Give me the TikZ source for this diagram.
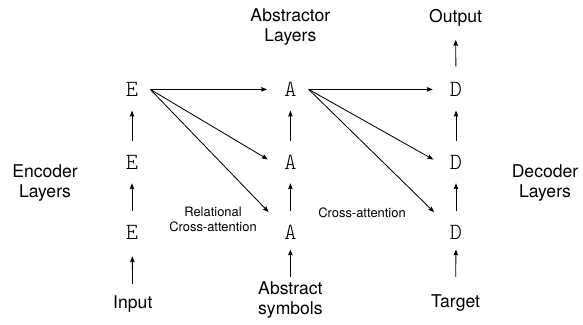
\documentclass[tikz,border=0pt]{standalone}
\usepackage{fontspec}
\setsansfont{TeX Gyre Heros}
\newfontfamily\layerfont{Latin Modern Mono Light}
\usetikzlibrary{arrows.meta}
\tikzset{
  layer/.style={font=\fontsize{16.5}{16.5}\selectfont\layerfont, minimum width=0.9cm, minimum height=0.8cm, inner sep=0pt},
  lbl/.style={font=\fontsize{12.5}{14.2}\selectfont\sffamily, align=center, inner sep=0pt},
  note/.style={font=\fontsize{9.2}{10.7}\selectfont\sffamily, align=center, inner sep=0pt},
  arr/.style={-{Stealth[length=4.2pt,width=3.2pt,inset=0.5pt]}, line width=0.6pt},
}

\begin{document}
\begin{tikzpicture}[x=1cm, y=1cm]
\useasboundingbox (0,0) rectangle (14.575,8.125);
% layer letters
\node[layer] (enc1) at (3.30,5.89) {E};
\node[layer] (enc2) at (3.30,4.075) {E};
\node[layer] (enc3) at (3.30,2.325) {E};
\node[layer] (abs1) at (7.26,5.89) {A};
\node[layer] (abs2) at (7.26,4.075) {A};
\node[layer] (abs3) at (7.26,2.325) {A};
\node[layer] (dec1) at (11.40,5.89) {D};
\node[layer] (dec2) at (11.40,4.075) {D};
\node[layer] (dec3) at (11.40,2.325) {D};
% labels
\node[lbl, anchor=base] (input) at (3.32,0.40) {Input};
\node[lbl] (symbols) at (7.26,0.625) {Abstract\\symbols};
\node[lbl, anchor=base] (target) at (11.39,0.425) {Target};
\node[lbl, anchor=base] (output) at (11.39,7.55) {Output};
\node[lbl] (abstractor) at (7.26,7.45) {Abstractor\\Layers};
\node[lbl] (encoder) at (1.125,3.545) {Encoder\\Layers};
\node[lbl] (decoder) at (13.625,3.54) {Decoder\\Layers};
\node[note] (relational) at (5.325,2.63) {Relational\\Cross-attention};
\node[note, anchor=base] (cross) at (9.05,2.675) {Cross-attention};
% vertical flow
\draw[arr, shorten <=0.3cm, shorten >=0.2cm] (input) -- (enc3);
\draw[arr, shorten <=0.125cm, shorten >=0.125cm] (enc3) -- (enc2);
\draw[arr, shorten <=0.125cm, shorten >=0.125cm] (enc2) -- (enc1);
\draw[arr, shorten <=0.12cm, shorten >=0.03cm] (symbols) -- (abs3);
\draw[arr, shorten <=0.125cm, shorten >=0.125cm] (abs3) -- (abs2);
\draw[arr, shorten <=0.125cm, shorten >=0.125cm] (abs2) -- (abs1);
\draw[arr, shorten <=0.45cm, shorten >=0.03cm] (target) -- (dec3);
\draw[arr, shorten <=0.125cm, shorten >=0.125cm] (dec3) -- (dec2);
\draw[arr, shorten <=0.125cm, shorten >=0.125cm] (dec2) -- (dec1);
\draw[arr, shorten <=0.17cm, shorten >=0.32cm] (dec1) -- (output);
% attention
\draw[arr, shorten >=0.125cm] (enc1.east) -- (abs1.west);
\draw[arr, shorten >=0.125cm] (enc1.east) -- (abs2.west);
\draw[arr, shorten >=0.125cm] (enc1.east) -- (abs3.north west);
\draw[arr, shorten >=0.125cm] (abs1.east) -- (dec1.west);
\draw[arr, shorten >=0.125cm] (abs1.east) -- (dec2.west);
\draw[arr, shorten >=0.125cm] (abs1.east) -- (dec3.north west);
\end{tikzpicture}
\end{document}
